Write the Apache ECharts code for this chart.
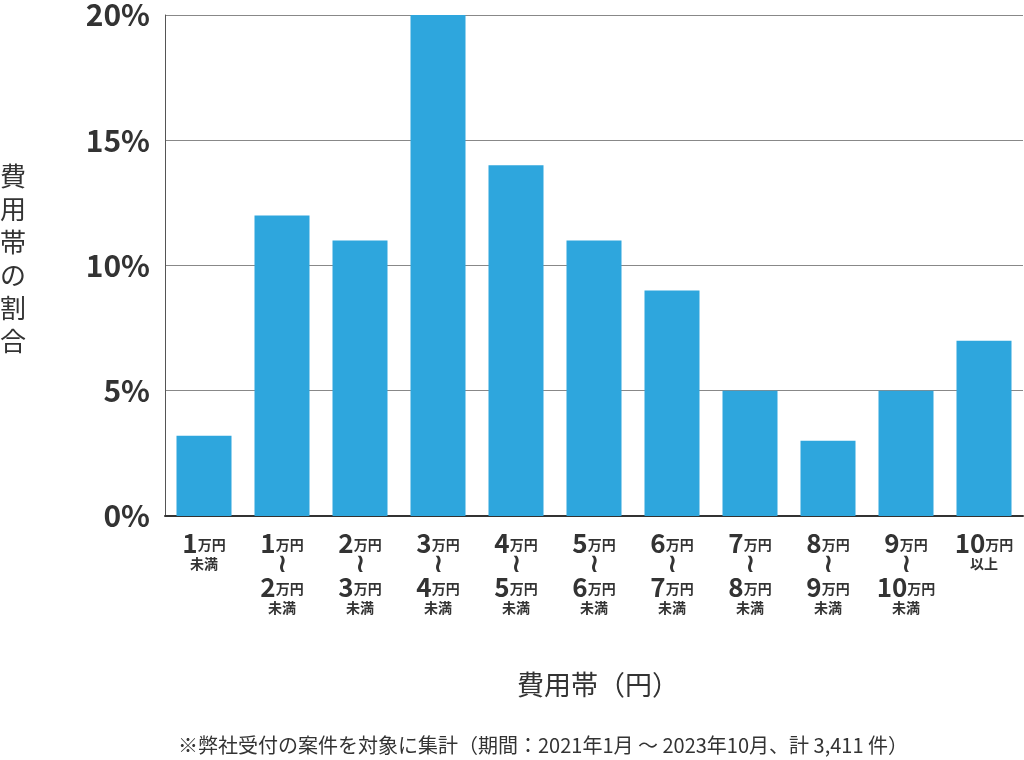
<!DOCTYPE html>
<html>
<head>
<meta charset="utf-8">
<script src="https://cdn.jsdelivr.net/npm/echarts@6/dist/echarts.min.js"></script>
<style>
  html,body{margin:0;padding:0;background:#fff;}
  #main{width:1024px;height:760px;}
</style>
</head>
<body>
<div id="main"></div>
<script>
// 費用帯（上限・下限）
var fromYen = ['', '1', '2', '3', '4', '5', '6', '7', '8', '9', '10'];
var toYen   = ['1', '2', '3', '4', '5', '6', '7', '8', '9', '10', ''];
// 割合(%)
var shares = [3.2, 12, 11, 20, 14, 11, 9, 5, 3, 5, 7];
var yTicks = [0, 5, 10, 15, 20];

var font = '"Noto Sans CJK JP", "Noto Sans", sans-serif';

// ラベル文字列（rich text）
var categories = [];
for (var i = 0; i < shares.length; i++) {
    var s;
    if (fromYen[i] == '') {
        s = '{n|' + toYen[i] + '}{u|万円}\n{s|未満}';
    } else if (toYen[i] == '') {
        s = '{n|' + fromYen[i] + '}{u|万円}\n{s|以上}';
    } else {
        s = '{n|' + fromYen[i] + '}{u|万円}\n{t|≀}\n{n|' + toYen[i] + '}{u|万円}\n{s|未満}';
    }
    categories.push(s);
}

var myChart = echarts.init(document.getElementById('main'));
var option = {
    animation: false,
    grid: { left: 165, right: 1, top: 12, bottom: 244 },
    xAxis: {
        type: 'category',
        data: categories,
        axisTick: { show: false },
        axisLine: { lineStyle: { color: '#333', width: 2 } },
        axisLabel: {
            margin: 16,
            interval: 0,
            color: '#333',
            fontFamily: font,
            rich: {
                n: { fontSize: 26, fontWeight: 'bold', lineHeight: 22, color: '#333', fontFamily: font },
                u: { fontSize: 14, fontWeight: 'bold', lineHeight: 22, color: '#333', fontFamily: font, padding: [4, 0, 0, 0] },
                s: { fontSize: 14, fontWeight: 'bold', lineHeight: 20, color: '#333', fontFamily: font },
                t: { fontSize: 26, fontWeight: 'bold', lineHeight: 22, color: '#333', fontFamily: 'DejaVu Sans' }
            }
        }
    },
    yAxis: {
        type: 'value',
        min: 0,
        max: 20,
        interval: 5,
        axisLine: { show: true, lineStyle: { color: '#555', width: 1 } },
        axisTick: { show: false },
        splitLine: { lineStyle: { color: '#888', width: 1 } },
        axisLabel: {
            margin: 15,
            fontSize: 30,
            fontWeight: 'bold',
            color: '#333',
            fontFamily: font,
            formatter: function (v) { return yTicks.indexOf(v) >= 0 ? v + '%' : ''; }
        }
    },
    series: [{
        type: 'bar',
        data: shares,
        barWidth: 55,
        itemStyle: { color: '#2EA6DD' }
    }],
    graphic: [
        {
            type: 'text', left: 0, top: 160,
            style: {
                text: '費\n用\n帯\nの\n割\n合',
                font: '26px ' + font,
                fill: '#333',
                lineHeight: 33,
                align: 'center',
                width: 28
            }
        },
        {
            type: 'text', x: 598, y: 685,
            style: {
                text: '費用帯（円）',
                font: '27px ' + font,
                fill: '#333',
                align: 'center',
                verticalAlign: 'middle'
            }
        },
        {
            type: 'text', x: 543, y: 745,
            style: {
                text: '※弊社受付の案件を対象に集計（期間：2021年1月 ～ 2023年10月、計 3,411 件）',
                font: '20px ' + font,
                fill: '#333',
                align: 'center',
                verticalAlign: 'middle'
            }
        }
    ]
};
myChart.setOption(option);
</script>
</body>
</html>
